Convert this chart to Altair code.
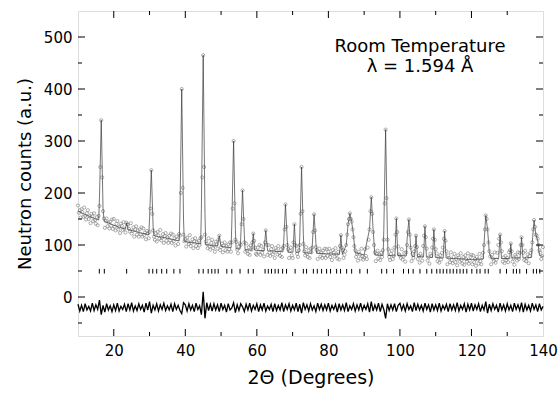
import altair as alt
import pandas as pd

# ---------------- data ----------------
obs_start, obs_step = 10.0, 0.25    # 2-theta grid of the observed points
diff_start, diff_step = 10.0, 0.5   # 2-theta grid of the difference curve

obs_counts = [
    176,162,167,153,169,163,154,172,156,149,161,167,150,155,142,160,155,146,161,148,
    141,154,138,156,175,250,340,230,165,151,133,146,151,136,143,132,145,137,149,131,
    150,135,128,141,146,130,135,123,141,137,129,144,131,124,143,140,139,131,126,142,
    122,127,134,116,130,136,120,128,116,130,121,134,116,132,119,124,111,127,122,113,
    125,170,244,160,128,116,110,123,107,125,118,112,129,109,114,121,104,117,123,108,
    115,104,118,109,122,104,120,107,113,99,116,111,102,121,118,200,400,210,120,107,
    112,97,114,107,102,119,98,104,111,94,107,113,98,106,94,108,100,113,115,230,
    465,250,120,107,102,94,113,97,91,104,110,94,99,87,106,102,93,110,118,90,
    96,103,86,99,105,90,98,87,101,92,105,87,105,170,300,180,110,106,91,84,
    97,103,100,140,205,150,105,87,103,89,83,96,81,99,91,105,122,108,95,83,
    81,95,87,100,81,98,85,91,78,105,128,100,81,100,85,79,92,98,82,87,
    75,94,90,82,98,85,79,92,77,94,98,130,178,135,100,92,75,89,95,80,
    75,105,140,100,98,83,77,90,100,160,250,165,102,88,80,96,83,77,90,75,
    93,86,95,125,159,128,96,90,73,87,93,78,86,75,89,80,93,75,92,79,
    87,93,77,83,71,90,86,78,94,81,74,87,72,98,119,95,90,75,81,88,
    100,120,140,150,161,150,145,130,115,98,90,77,83,70,87,82,74,93,78,72,
    76,92,79,73,95,110,130,165,192,160,125,100,86,69,83,89,74,82,71,85,
    77,90,110,180,322,190,110,92,77,71,83,89,73,79,95,120,151,125,97,82,
    80,75,92,72,78,85,68,86,100,125,149,120,95,69,83,75,88,98,118,96,
    73,79,66,83,78,70,98,118,136,115,93,70,76,64,83,79,95,112,130,110,
    92,84,69,77,66,80,72,85,95,112,127,108,88,63,80,75,67,86,71,65,
    77,83,67,73,61,80,76,68,84,71,64,77,62,80,73,68,84,64,70,77,
    81,63,80,67,73,60,77,72,64,83,69,63,76,85,100,130,157,150,130,105,
    88,78,63,81,74,69,86,66,72,85,100,112,120,105,88,68,76,65,79,71,
    75,67,86,90,103,88,68,74,62,81,78,70,86,73,85,100,115,100,85,71,
    89,69,75,82,65,79,85,90,105,130,148,135,120,118,112,100,90,86,73,79,
    96,
]

diff_counts = [
    -14,-27,-16,-28,-13,-25,-18,-27,-12,-26,-15,-24,-6,-34,-16,-29,-13,-25,-17,-28,
    -15,-26,-12,-27,-18,-24,-14,-28,-13,-25,-11,-27,-17,-26,-13,-24,-16,-29,-12,-25,
    -9,-31,-16,-25,-13,-27,-15,-24,-12,-26,-17,-25,-14,-28,-13,-24,-16,-26,-32,-11,
    -15,-27,-13,-25,-16,-28,-12,-24,-17,-34,10,-41,-11,-26,-14,-27,-13,-25,-15,-28,
    -12,-24,-16,-29,-13,-25,-21,-11,-30,-15,-26,-13,-19,-28,-14,-25,-12,-27,-16,-24,
    -13,-28,-15,-25,-12,-27,-17,-24,-14,-28,-13,-26,-16,-25,-11,-28,-15,-24,-13,-27,
    -16,-25,-12,-28,-14,-31,-11,-24,-15,-27,-13,-25,-17,-28,-12,-24,-14,-26,-15,-25,
    -12,-27,-16,-24,-14,-29,-13,-25,-15,-26,-11,-28,-17,-24,-13,-27,-15,-25,-12,-26,
    -16,-24,-13,-29,-9,-27,-15,-25,-12,-28,-14,-24,-41,-13,-26,-15,-25,-13,-28,-16,
    -12,-25,-15,-27,-13,-24,-17,-28,-11,-26,-14,-25,-16,-27,-12,-24,-15,-29,-13,-25,
    -15,-26,-12,-27,-16,-24,-14,-28,-13,-25,-15,-26,-11,-27,-16,-24,-13,-29,-14,-25,
    -12,-27,-15,-24,-13,-28,-16,-25,-9,-31,-14,-26,-13,-24,-16,-29,-12,-25,-15,-27,
    -13,-25,-16,-28,-12,-24,-15,-26,-11,-29,-14,-25,-16,-27,-12,-24,-15,-28,-13,-25,
    -18,
]

calc_x = [10,12.5,15,15.8,16,16.5,17,17.3,20,22.5,23.2,23.6,24,25,27.5,29.8,30,30.5,31,31.2,
          32.5,35,37.5,38.3,38.5,39,39.5,39.7,42.5,44.3,44.5,45,45.5,45.7,47.5,49,49.5,50,
          52.5,52.8,53,53.5,54,54.2,55.3,55.5,56,56.5,56.7,58.6,59,59.4,62,62.5,63,65,67.3,
          67.5,68,68.5,68.7,70.1,70.5,70.9,71.8,72,72.5,73,73.2,75.3,75.5,76,76.5,76.7,80,
          83.1,83.5,83.9,85,85.5,86,86.5,87,87.5,90,91.5,92,92.5,93,95.3,95.5,96,96.5,96.7,
          98.6,99,99.4,101.8,102,102.5,103,103.4,104.1,104.5,104.9,106.6,107,107.4,109.1,
          109.5,109.9,112.1,112.5,112.9,115,120,123.3,123.5,124,124.5,125,125.5,127.6,128,
          128.4,130.7,131,131.3,133.6,134,134.4,136.8,137,137.5,138,138.5,139,140]
calc_y = [165,157,150,148,190,340,170,146,138,132,131,142,130,128,123,120,150,244,135,118,
          116,113,109,108,160,400,150,107,104,102,170,465,160,101,99,98,118,97,
          95,94,140,300,130,93,92,115,205,120,91,90,122,90,89,128,89,88,87,
          105,178,110,86,86,140,86,86,115,250,120,85,84,100,159,105,84,83,
          82,119,82,100,140,161,145,120,85,81,130,192,130,81,80,130,322,120,80,
          79,151,80,79,110,149,95,78,78,118,78,77,136,77,76,
          130,76,75,127,75,74,72,73,100,157,130,85,74,74,120,
          74,74,103,75,75,115,75,76,105,148,120,110,80,78]

bragg_pos = [15.96,17.36,23.6,29.85,30.9,32.0,33.4,34.8,36.8,38.5,43.8,45.0,46.4,47.4,48.3,
             49.2,51.6,53.0,55.3,57.6,59.0,62.3,63.2,64.1,65.1,66.0,67.2,68.3,70.7,73.0,73.9,
             75.8,76.9,78.1,79.5,80.6,82.3,83.4,85.1,86.5,88.8,90.9,94.9,96.3,98.2,101.0,
             102.4,103.7,105.6,107.5,108.9,110.3,111.2,112.1,113.1,114.0,114.9,115.9,116.8,
             117.7,118.7,120.1,121.5,122.4,123.8,124.7,128.0,129.8,131.7,132.6,133.5,135.4,
             137.3,138.2,139.1]

x_major = [20, 40, 60, 80, 100, 120]
x_minor = [30, 50, 70, 90, 110, 130]
x_labels = [20, 40, 60, 80, 100, 120, 140]
y_major = [0, 100, 200, 300, 400, 500]
y_minor = [-50, 50, 150, 250, 350, 450]

annot_lines = ["Room Temperature", "λ = 1.594 Å"]

# ---------------- tables ----------------
obs_df = pd.DataFrame({"x": [obs_start + obs_step * i for i in range(len(obs_counts))],
                       "y": obs_counts})
diff_df = pd.DataFrame({"x": [diff_start + diff_step * i for i in range(len(diff_counts))],
                        "y": diff_counts})
calc_df = pd.DataFrame({"x": calc_x, "y": calc_y})
bragg_df = pd.DataFrame({"x": bragg_pos})

W, H = 465, 325
FONT = "DejaVu Sans"
xs = alt.Scale(domain=[10, 140], nice=False, zero=False)
ys = alt.Scale(domain=[-75, 550], nice=False, zero=False)

obs = alt.Chart(obs_df).mark_point(
    shape="circle", filled=False, size=10, color="#7a7a7a", strokeWidth=0.6, opacity=1
).encode(
    x=alt.X("x:Q", scale=xs, axis=alt.Axis(
        values=x_labels, title="2Θ (Degrees)", ticks=False, tickSize=0, domain=False,
        grid=False, labelPadding=7, titlePadding=10, labelFontSize=15, titleFontSize=19,
        titleFontWeight="normal", labelFont=FONT, titleFont=FONT, labelColor="black",
        titleColor="black", labelFlush=False, orient="bottom")),
    y=alt.Y("y:Q", scale=ys, axis=alt.Axis(
        values=y_major, title="Neutron counts (a.u.)", ticks=False, tickSize=0,
        domain=False, grid=False, labelPadding=6, titlePadding=9, labelFontSize=15,
        titleFontSize=18, titleFontWeight="normal", labelFont=FONT, titleFont=FONT,
        labelColor="black", titleColor="black", orient="left")),
)

calc = alt.Chart(calc_df).mark_line(color="#3a3a3a", strokeWidth=0.7).encode(
    x=alt.X("x:Q", scale=xs, axis=None),
    y=alt.Y("y:Q", scale=ys, axis=None),
)

diff = alt.Chart(diff_df).mark_line(color="black", strokeWidth=1.3).encode(
    x=alt.X("x:Q", scale=xs, axis=None),
    y=alt.Y("y:Q", scale=ys, axis=None),
)

bragg = alt.Chart(bragg_df).mark_rule(color="black", strokeWidth=1).encode(
    x=alt.X("x:Q", scale=xs, axis=None),
    y=alt.YDatum(45, axis=None),
    y2=alt.Y2Datum(54),
)

def xticks(vals, length):
    d = pd.DataFrame({"v": vals})
    bottom = alt.Chart(d).mark_rule(color="black", strokeWidth=1).encode(
        x=alt.X("v:Q", scale=xs, axis=None), y=alt.value(H), y2=alt.value(H - length))
    top = alt.Chart(d).mark_rule(color="black", strokeWidth=1).encode(
        x=alt.X("v:Q", scale=xs, axis=None), y=alt.value(0), y2=alt.value(length))
    return [bottom, top]

def yticks(vals, length):
    d = pd.DataFrame({"v": vals})
    left = alt.Chart(d).mark_rule(color="black", strokeWidth=1).encode(
        y=alt.Y("v:Q", scale=ys, axis=None), x=alt.value(0), x2=alt.value(length))
    right = alt.Chart(d).mark_rule(color="black", strokeWidth=1).encode(
        y=alt.Y("v:Q", scale=ys, axis=None), x=alt.value(W), x2=alt.value(W - length))
    return [left, right]

texts = []
for i, line in enumerate(annot_lines):
    texts.append(alt.Chart(pd.DataFrame({"t": [line]})).mark_text(
        font=FONT, fontSize=18, color="black", align="center", baseline="alphabetic"
    ).encode(text="t:N", x=alt.value(342), y=alt.value(41 + 20 * i)))

layers = [obs, calc, bragg, diff] + xticks(x_major, 7) + xticks(x_minor, 4) \
    + yticks(y_major, 7) + yticks(y_minor, 4) + texts

chart = alt.layer(*layers).resolve_axis(x="independent", y="independent").properties(
    width=W, height=H,
    autosize=alt.AutoSizeParams(type="none"),
    padding={"left": 78, "top": 11, "right": 15, "bottom": 57},
).configure_view(stroke="black", strokeWidth=1.2).configure(background="white")

chart.save("out.html", embed_options={"renderer": "svg", "actions": False})
